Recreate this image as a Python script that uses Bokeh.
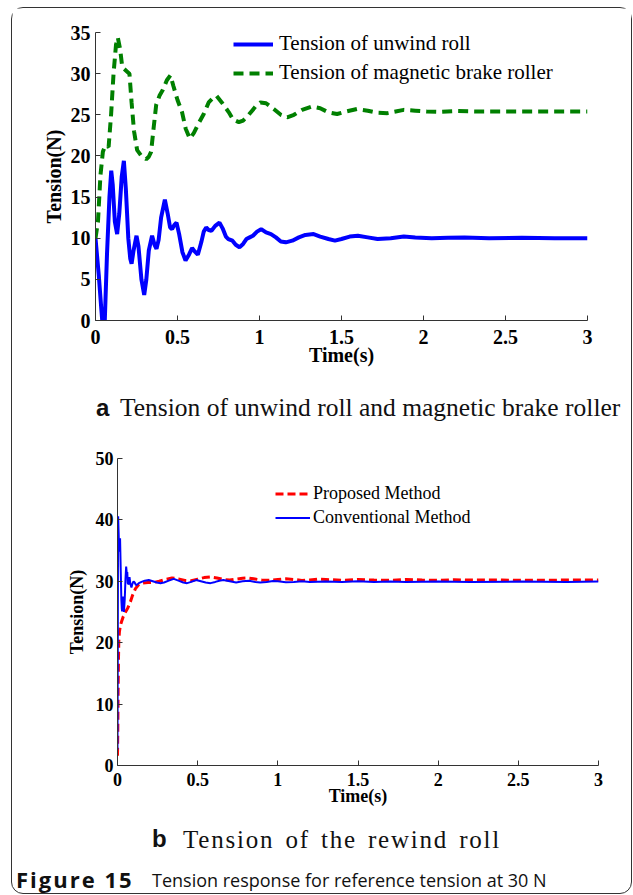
from bokeh.plotting import figure
from bokeh.models import Range1d, FixedTicker, Legend, LegendItem, Div
from bokeh.layouts import column, row
from bokeh.embed import file_html
from bokeh.resources import INLINE

# ---------------- data: panel a ----------------
t_unwind = [0.00, 0.02, 0.035, 0.045, 0.055, 0.07, 0.085, 0.096, 0.105, 0.118, 0.132, 0.145, 0.16, 0.173,
            0.185, 0.20, 0.212, 0.22, 0.232, 0.25, 0.262, 0.28, 0.297, 0.31, 0.325, 0.345, 0.36, 0.372,
            0.385, 0.40, 0.423, 0.44, 0.455, 0.467, 0.48, 0.494, 0.51, 0.53, 0.549, 0.57, 0.589, 0.605,
            0.624, 0.645, 0.66, 0.675, 0.69, 0.707, 0.73, 0.756, 0.775, 0.795, 0.81, 0.835, 0.855, 0.878,
            0.90, 0.92, 0.94, 0.96, 0.985, 1.01, 1.04, 1.07, 1.10, 1.13, 1.16, 1.20, 1.24, 1.28, 1.33,
            1.37, 1.42, 1.46, 1.50, 1.55, 1.60, 1.66, 1.72, 1.80, 1.88, 1.95, 2.05, 2.15, 2.25, 2.40,
            2.60, 2.80, 3.00]
y_unwind = [10.0, 5.5, 1.5, -1.0, -1.0, 8.0, 15.0, 18.2, 16.5, 12.0, 10.5, 13.0, 17.5, 19.4,
            16.0, 10.0, 7.5, 6.9, 8.5, 10.3, 9.0, 5.0, 3.1, 5.0, 8.5, 10.3, 9.2, 8.7,
            9.8, 12.5, 14.7, 13.0, 11.3, 11.1, 11.6, 11.9, 10.5, 8.3, 7.3, 8.0, 8.8, 8.4,
            8.0, 9.5, 10.8, 11.3, 11.0, 10.9, 11.5, 11.9, 11.2, 10.2, 9.9, 9.7, 9.2, 8.9,
            9.3, 9.9, 10.1, 10.3, 10.8, 11.1, 10.7, 10.5, 10.1, 9.6, 9.5, 9.7, 10.1, 10.4, 10.5,
            10.2, 9.9, 9.7, 9.9, 10.2, 10.3, 10.1, 9.9, 10.0, 10.2, 10.1, 10.0, 10.05, 10.1, 10.0,
            10.05, 10.0, 10.0]

t_brake = [0.00, 0.015, 0.03, 0.045, 0.06, 0.08, 0.095, 0.11, 0.125, 0.136, 0.15, 0.162, 0.173, 0.19,
           0.207, 0.22, 0.235, 0.254, 0.28, 0.295, 0.309, 0.325, 0.339, 0.355, 0.37, 0.39, 0.41, 0.435,
           0.457, 0.475, 0.50, 0.528, 0.55, 0.575, 0.60, 0.63, 0.66, 0.69, 0.72, 0.738, 0.77, 0.813,
           0.84, 0.874, 0.90, 0.93, 0.955, 0.98, 1.006, 1.04, 1.087, 1.13, 1.169, 1.21, 1.26, 1.32,
           1.37, 1.42, 1.473, 1.53, 1.595, 1.66, 1.72, 1.78, 1.83, 1.88, 1.95, 2.02, 2.10, 2.20,
           2.35, 2.50, 2.70, 3.00]
y_brake = [10.0, 12.0, 17.6, 20.5, 21.3, 21.1, 25.0, 30.0, 33.5, 34.4, 33.0, 31.0, 30.6, 30.3,
           30.0, 26.5, 23.0, 20.7, 20.0, 19.8, 19.6, 19.9, 20.5, 23.5, 26.2, 27.3, 28.0, 29.2,
           29.8, 28.5, 26.8, 25.3, 23.3, 22.1, 22.8, 24.0, 25.1, 26.5, 27.1, 27.3, 26.5, 25.3,
           24.4, 24.1, 24.3, 24.9, 25.5, 26.1, 26.5, 26.4, 25.7, 25.0, 24.7, 25.0, 25.6, 26.0,
           25.8, 25.3, 25.1, 25.4, 25.7, 25.5, 25.25, 25.2, 25.4, 25.6, 25.5, 25.4, 25.35, 25.45,
           25.4, 25.4, 25.4, 25.4]

# ---------------- data: panel b ----------------
t_prop = [0.0, 0.002, 0.004, 0.006, 0.008, 0.012, 0.018, 0.025, 0.035, 0.05, 0.065, 0.081, 0.095,
          0.112, 0.13, 0.154, 0.19, 0.22, 0.26, 0.30, 0.34, 0.38, 0.42, 0.46, 0.50, 0.54, 0.58,
          0.62, 0.66, 0.70, 0.74, 0.78, 0.81, 0.85, 0.90, 0.95, 1.00, 1.05, 1.10, 1.15, 1.20,
          1.25, 1.30, 1.40, 1.50, 1.60, 1.70, 1.80, 1.90, 2.00, 2.10, 2.20, 2.40, 2.60, 2.80, 3.00]
y_prop = [1.6, 6.0, 12.5, 17.0, 20.1, 21.8, 22.8, 23.4, 24.2, 25.0, 25.7, 26.7, 27.8,
          28.8, 29.4, 29.7, 29.8, 29.8, 30.0, 30.3, 30.55, 30.4, 30.15, 30.1, 30.35, 30.6, 30.7,
          30.55, 30.3, 30.2, 30.35, 30.5, 30.55, 30.4, 30.2, 30.15, 30.3, 30.4, 30.3, 30.15, 30.2,
          30.35, 30.3, 30.15, 30.3, 30.2, 30.15, 30.3, 30.2, 30.15, 30.25, 30.2, 30.2, 30.15, 30.2, 30.2]

t_conv = [0.0, 0.001, 0.002, 0.003, 0.004, 0.007, 0.010, 0.013, 0.016, 0.020, 0.024, 0.027, 0.029,
          0.033, 0.036, 0.040, 0.045, 0.050, 0.054, 0.058, 0.061, 0.064, 0.070, 0.075, 0.080, 0.087,
          0.093, 0.100, 0.107, 0.115, 0.125, 0.133, 0.15, 0.17, 0.195, 0.22, 0.245, 0.268, 0.29,
          0.32, 0.351, 0.38, 0.41, 0.434, 0.46, 0.49, 0.52, 0.55, 0.58, 0.61, 0.635, 0.66, 0.70,
          0.74, 0.78, 0.82, 0.86, 0.89, 0.93, 0.97, 1.00, 1.05, 1.10, 1.15, 1.20, 1.30, 1.40,
          1.50, 1.60, 1.70, 1.80, 2.00, 2.20, 2.50, 2.80, 3.00]
y_conv = [2.6, 12.0, 22.0, 33.0, 40.6, 38.0, 35.0, 34.9, 37.0, 32.0, 27.0, 25.5, 25.1,
          27.5, 26.8, 25.0, 27.0, 30.5, 32.4, 31.2, 31.5, 29.7, 29.5, 30.7, 29.6, 29.0,
          29.6, 30.0, 29.8, 29.4, 29.5, 29.7, 29.9, 30.1, 30.2, 30.0, 29.8, 29.7, 29.8,
          30.1, 30.4, 30.1, 29.8, 29.7, 29.9, 30.2, 30.0, 29.8, 29.7, 29.9, 30.1, 30.2, 30.0,
          29.8, 30.0, 30.1, 29.9, 29.8, 29.9, 30.05, 30.0, 29.85, 29.9, 30.0, 29.9, 29.95, 29.9,
          30.0, 29.9, 29.95, 29.9, 29.95, 29.9, 29.95, 29.9, 29.95]

x_ticks = [0, 0.5, 1, 1.5, 2, 2.5, 3]
x_tick_labels = ["0", "0.5", "1", "1.5", "2", "2.5", "3"]
y_ticks_a = [0, 5, 10, 15, 20, 25, 30, 35]
y_ticks_b = [0, 10, 20, 30, 40, 50]

SERIF = "Liberation Serif"
AXC = "#333333"


def style(p, tick_size, label_size, x_std, x_lab_std, y_std, y_lab_std):
    p.outline_line_color = None
    p.xgrid.visible = False
    p.ygrid.visible = False
    p.background_fill_color = "white"
    p.border_fill_color = "white"
    for ax in (p.xaxis[0], p.yaxis[0]):
        ax.axis_line_color = AXC
        ax.axis_line_width = 1
        ax.major_tick_line_color = AXC
        ax.major_tick_in = 5
        ax.major_tick_out = 0
        ax.minor_tick_line_color = None
        ax.major_label_text_font = SERIF
        ax.major_label_text_font_style = "bold"
        ax.major_label_text_font_size = tick_size
        ax.major_label_text_color = "black"
        ax.axis_label_text_font = SERIF
        ax.axis_label_text_font_style = "bold"
        ax.axis_label_text_font_size = label_size
        ax.axis_label_text_color = "black"
    p.xaxis[0].major_label_standoff = x_std
    p.xaxis[0].axis_label_standoff = x_lab_std
    p.yaxis[0].major_label_standoff = y_std
    p.yaxis[0].axis_label_standoff = y_lab_std
    p.xaxis[0].ticker = FixedTicker(ticks=x_ticks)
    p.xaxis[0].major_label_overrides = {t: l for t, l in zip(x_ticks, x_tick_labels)}
    p.xaxis[0].axis_label = "Time(s)"
    p.yaxis[0].axis_label = "Tension(N)"


# ---------------- panel a ----------------
p1 = figure(width=619, height=362, x_range=Range1d(0, 3), y_range=Range1d(0, 35),
            output_backend="svg", toolbar_location=None, margin=0,
            min_border_left=83, min_border_right=44, min_border_top=24, min_border_bottom=50)
style(p1, "20px", "20px", 9, -3, 5, 3)
p1.yaxis[0].ticker = FixedTicker(ticks=y_ticks_a)
r_unwind = p1.line(t_unwind, y_unwind, line_color="#0000FF", line_width=4)
r_brake = p1.line(t_brake, y_brake, line_color="#008000", line_width=4, line_dash="10 6")
leg1 = Legend(items=[LegendItem(label="Tension of unwind roll", renderers=[r_unwind]),
                     LegendItem(label="Tension of magnetic brake roller", renderers=[r_brake])],
              location=(138, 235), padding=0, margin=0, spacing=4,
              label_height=24, glyph_height=24, glyph_width=40, label_standoff=6,
              label_text_font=SERIF, label_text_font_size="21px", label_text_color="black",
              border_line_alpha=0, background_fill_alpha=0)
p1.add_layout(leg1)

# ---------------- panel b ----------------
p2 = figure(width=619, height=383, x_range=Range1d(0, 3), y_range=Range1d(0, 50),
            output_backend="svg", toolbar_location=None, margin=0,
            min_border_left=105, min_border_right=33, min_border_top=28, min_border_bottom=48)
style(p2, "18px", "18px", 7, -3, 4, 6)
p2.yaxis[0].ticker = FixedTicker(ticks=y_ticks_b)
r_prop = p2.line(t_prop, y_prop, line_color="#FF0000", line_width=3, line_dash="8 4")
r_conv = p2.line(t_conv, y_conv, line_color="#0000FF", line_width=2)
leg2 = Legend(items=[LegendItem(label="Proposed Method", renderers=[r_prop]),
                     LegendItem(label="Conventional Method", renderers=[r_conv])],
              location=(158, 237), padding=0, margin=0, spacing=3,
              label_height=21, glyph_height=21, glyph_width=35, label_standoff=3,
              label_text_font=SERIF, label_text_font_size="18px", label_text_color="black",
              border_line_alpha=0, background_fill_alpha=0)
p2.add_layout(leg2)

# ---------------- captions ----------------
div_a = Div(width=619, height=60, margin=0, text=(
    '<div style="position:relative;width:619px;height:60px">'
    '<span style="position:absolute;left:84px;top:26px;line-height:1;font-family:\'Liberation Sans\';'
    'font-weight:bold;font-size:24px;color:#111">a</span>'
    '<span style="position:absolute;left:108px;top:25px;line-height:1;font-family:\'Liberation Serif\';'
    'font-size:25.5px;color:#111;white-space:nowrap">Tension of unwind roll and magnetic brake roller</span>'
    '</div>'))
div_b = Div(width=619, height=47, margin=0, text=(
    '<div style="position:relative;width:619px;height:47px">'
    '<span style="position:absolute;left:140px;top:14px;line-height:1;font-family:\'Liberation Sans\';'
    'font-weight:bold;font-size:24px;color:#111">b</span>'
    '<span style="position:absolute;left:171px;top:14px;line-height:1;font-family:\'Liberation Serif\';'
    'font-size:25px;letter-spacing:1.8px;word-spacing:3px;color:#111;white-space:nowrap">Tension of the rewind roll</span>'
    '</div>'))
div_c = Div(width=619, height=33, margin=0, text=(
    '<div style="position:relative;width:619px;height:33px">'
    '<span style="position:absolute;left:4px;top:8px;line-height:1;font-family:\'Open Sans\';'
    'font-weight:bold;font-size:22px;letter-spacing:2px;color:#111;white-space:nowrap">Figure 15</span>'
    '<span style="position:absolute;left:140px;top:11px;line-height:1;font-family:\'Open Sans\';'
    'font-size:18px;color:#111;white-space:nowrap">Tension response for reference tension at 30 N</span>'
    '</div>'))

layout = column(row(p1, margin=0), div_a, row(p2, margin=0), div_b, div_c, spacing=0, margin=(7, 0, 0, 11),
                styles={"border": "1px solid #333", "border-radius": "12px"})

open("out.html", "w").write(file_html(layout, INLINE))
